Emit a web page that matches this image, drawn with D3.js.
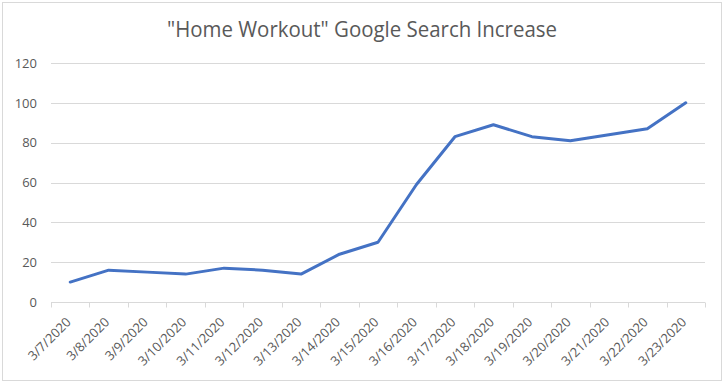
<!DOCTYPE html>
<html><head><meta charset="utf-8">
<script src="https://cdn.jsdelivr.net/npm/d3@7"></script>
<style>body{margin:0;background:#fff;} svg{display:block;}</style>
</head><body>
<script>
const categories = ["3/7/2020","3/8/2020","3/9/2020","3/10/2020","3/11/2020","3/12/2020","3/13/2020","3/14/2020","3/15/2020","3/16/2020","3/17/2020","3/18/2020","3/19/2020","3/20/2020","3/21/2020","3/22/2020","3/23/2020"];
const values = [10,16,15,14,17,16,14,24,30,59,83,89,83,81,84,87,100];
const yTicks = [0,20,40,60,80,100,120];
const title = "\"Home Workout\" Google Search Increase";

(function(){
const W = 727, H = 386;
const svg = d3.select("body").append("svg").attr("width", W).attr("height", H);
svg.append("rect").attr("x",2.5).attr("y",2.5).attr("width",719).attr("height",378)
  .attr("fill","#fff").attr("stroke","#d9d9d9").attr("stroke-width",1);

const pl = 51, pr = 705, pt = 63, pb = 302;
const x = d3.scaleBand().domain(categories).range([pl, pr]);
const y = d3.scaleLinear().domain([0,120]).range([pb, pt]);

svg.append("text").attr("x", 362).attr("y", 37).attr("text-anchor","middle")
  .attr("font-family","'Open Sans', sans-serif").attr("font-size",21).attr("fill","#595959")
  .attr("textLength",390).attr("lengthAdjust","spacingAndGlyphs").text(title);

svg.append("g").selectAll("line").data(yTicks.filter(d=>d>0)).join("line")
  .attr("x1",pl).attr("x2",pr).attr("y1",d=>Math.round(y(d))+0.5).attr("y2",d=>Math.round(y(d))+0.5)
  .attr("stroke","#d9d9d9").attr("stroke-width",1);

const yAxis = d3.axisLeft(y).tickValues(yTicks).tickSize(0).tickPadding(0);
const gy = svg.append("g").attr("transform",`translate(37,0)`).call(yAxis);
gy.select(".domain").remove();
gy.selectAll("text").attr("font-family","'Open Sans', sans-serif").attr("font-size",13).attr("fill","#595959");

const xAxis = d3.axisBottom(x).tickSize(0).tickPadding(0);
const gx = svg.append("g").attr("transform",`translate(0,${Math.round(pb)+0.5})`).call(xAxis);
gx.select(".domain").attr("stroke","#d9d9d9").attr("d",`M${pl},0H${pr}`);
gx.selectAll("text").attr("font-family","'Open Sans', sans-serif").attr("font-size",13).attr("fill","#595959")
  .attr("text-anchor","end").attr("dy",0).attr("transform","translate(1.5,20.5) rotate(-45)");
const bounds = categories.map(c=>x(c)).concat([pr]);
gx.append("g").selectAll("line").data(bounds).join("line")
  .attr("x1",d=>Math.round(d)+0.5).attr("x2",d=>Math.round(d)+0.5).attr("y1",0).attr("y2",5)
  .attr("stroke","#d9d9d9");

const line = d3.line().x((d,i)=>x(categories[i])+x.bandwidth()/2).y(d=>y(d));
svg.append("path").datum(values).attr("d",line).attr("fill","none")
  .attr("stroke","#4472C4").attr("stroke-width",3).attr("stroke-linejoin","round").attr("stroke-linecap","round");
})();
</script>
</body></html>
